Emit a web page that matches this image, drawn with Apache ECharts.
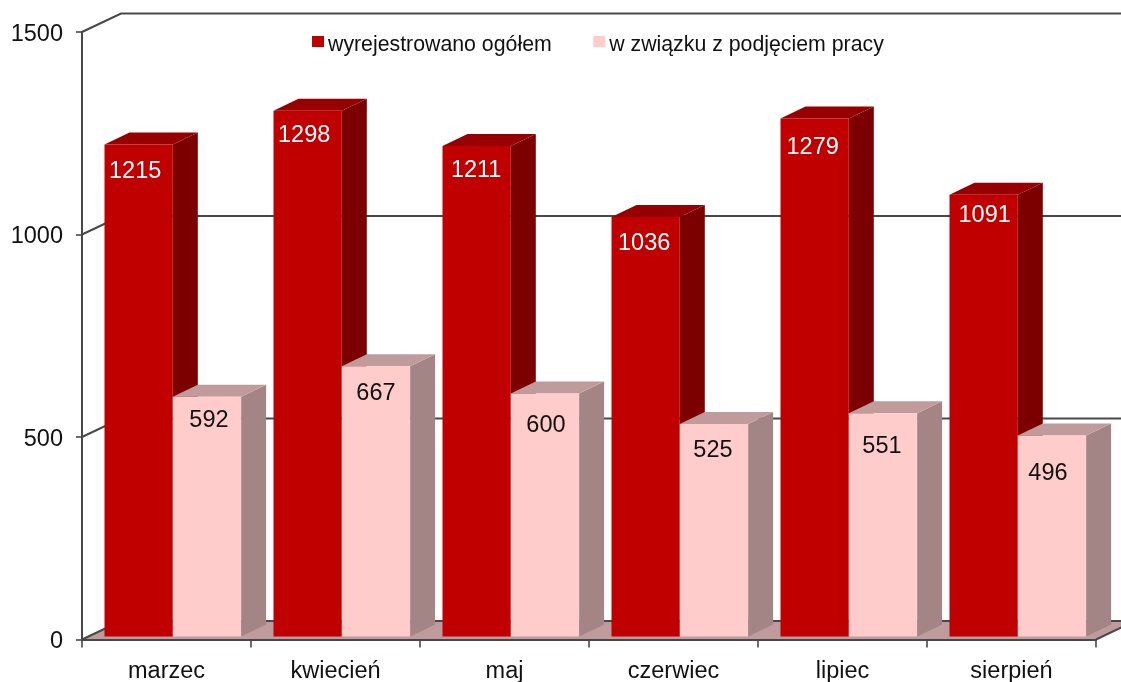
<!DOCTYPE html>
<html><head><meta charset="utf-8">
<style>html,body{margin:0;padding:0;background:#fff}#c{width:1121px;height:682px}</style>
<script src="https://cdn.jsdelivr.net/npm/echarts@6/dist/echarts.min.js"></script>
</head><body><div id="c"></div>
<script>
const categories = ['marzec','kwiecień','maj','czerwiec','lipiec','sierpień'];
const wyrejestrowano = [1215,1298,1211,1036,1279,1091];
const podjeciePracy = [592,667,600,525,551,496];
const yTicks = [0,500,1000,1500];
const seriesNames = ['wyrejestrowano ogółem','w związku z podjęciem pracy'];

// hand-placed data label nudges [dx, dy] from the top-centre of each bar
const redLabelNudge = [[-3.5,27.2],[-3.5,25],[-0.5,24],[-1.5,27],[-2,29],[1,20.5]];
const pinkLabelNudge = [[2,24],[0,27.3],[1,32.3],[-1,27],[-1,33.3],[-4,37.8]];

const FONT = '"Liberation Sans", Arial, sans-serif';
const WALL = [39,-18.5], BAR_SHIFT = [7,-3], BAR_DEPTH = [25,-12];
const BAR_FRAC = 68.3/169, BAR_START = 22.5/169;
const AXIS_COLOR = '#484848';

function wallItem(params, api){
  const cs = params.coordSys, y = api.coord([0, api.value(0)])[1];
  const x0 = cs.x, x1 = cs.x + cs.width;
  const children = [];
  if (api.value(0) === 0) {
    children.push({type:'polygon',shape:{points:[[x0,y],[x0+WALL[0],y+WALL[1]],[x1+WALL[0],y+WALL[1]],[x1,y]]},
      style:{fill:'#c09b9b'}});
  }
  children.push({type:'polyline',shape:{points:[[x0,y],[x0+WALL[0],y+WALL[1]],[x1+WALL[0],y+WALL[1]]]},
    style:{fill:null,stroke:AXIS_COLOR,lineWidth:2}});
  if (api.value(0) === 0) {
    children.push({type:'line',shape:{x1:x1,y1:y,x2:x1+WALL[0],y2:y+WALL[1]},style:{stroke:AXIS_COLOR,lineWidth:2}});
  }
  return {type:'group',children};
}

function barRenderer(seriesIdx, front, top, side, textColor, nudge){
  return function(params, api){
    const i = api.value(0), v = api.value(1);
    const band = api.size([1,0])[0];
    const base = api.coord([i,0]), head = api.coord([i,v]);
    const w = band*BAR_FRAC;
    const xl = base[0]-band/2 + band*BAR_START + seriesIdx*w;
    const xr = xl+w;
    const yb = base[1]+BAR_SHIFT[1], yt = head[1]+BAR_SHIFT[1];
    const dx = BAR_DEPTH[0], dy = BAR_DEPTH[1];
    return {type:'group',children:[
      {type:'polygon',shape:{points:[[xr,yb],[xr+dx,yb+dy],[xr+dx,yt+dy],[xr,yt]]},style:{fill:side}},
      {type:'polygon',shape:{points:[[xl,yt],[xl+dx,yt+dy],[xr+dx,yt+dy],[xr,yt]]},style:{fill:top}},
      {type:'rect',shape:{x:xl,y:yt,width:w,height:yb-yt},style:{fill:front}},
      {type:'text',x:(xl+xr)/2+nudge[i][0],y:yt+nudge[i][1],
        style:{text:String(v),fill:textColor,font:'23.5px '+FONT,align:'center',verticalAlign:'middle'}}
    ]};
  };
}

const chart = echarts.init(document.getElementById('c'),null,{renderer:'canvas'});
chart.setOption({
  animation:false,
  backgroundColor:'#ffffff',
  grid:{left:82,top:32,width:1014,height:607.5,containLabel:false,outerBoundsMode:'none'},
  legend:{
    data:seriesNames.map((n,k)=>({name:n,icon:'rect',itemStyle:{color:k?'#ffcccc':'#c00000'}})),
    left:307,top:29.5,itemWidth:12,itemHeight:11,itemGap:41.5,
    selectedMode:false,
    formatter:n=>'{t|'+n+'}',
    textStyle:{fontFamily:FONT,fontSize:21.3,color:'#111',
      rich:{t:{fontFamily:FONT,fontSize:21.3,color:'#111',padding:[7,0,0,-1]}}}
  },
  xAxis:{type:'category',data:categories,z:10,
    axisLine:{lineStyle:{color:AXIS_COLOR,width:2}},
    axisTick:{show:true,length:8,lineStyle:{color:AXIS_COLOR,width:1.6}},
    axisLabel:{fontFamily:FONT,fontSize:23.5,color:'#111',margin:20,interval:0},
    splitLine:{show:false}},
  yAxis:{type:'value',min:0,max:1500,interval:500,z:10,
    axisLine:{show:true,lineStyle:{color:AXIS_COLOR,width:2}},
    axisTick:{show:true,length:6,lineStyle:{color:AXIS_COLOR,width:1.6}},
    axisLabel:{fontFamily:FONT,fontSize:23.5,color:'#111',margin:19,
      formatter:v=>'{t|'+v+'}',
      rich:{t:{fontFamily:FONT,fontSize:23.5,color:'#111',padding:[5,0,0,0]}}},
    splitLine:{show:false}},
  series:[
    {type:'custom',name:'wall',silent:true,z:1,clip:false,coordinateSystem:'cartesian2d',
      data:yTicks.map(v=>[v]),encode:{y:0},renderItem:wallItem},
    {type:'custom',name:seriesNames[0],z:2,clip:false,coordinateSystem:'cartesian2d',
      data:wyrejestrowano.map((v,i)=>[i,v]),encode:{x:0,y:1},
      itemStyle:{color:'#c00000'},
      renderItem:barRenderer(0,'#c00000','#960000','#7d0000','#ffffff',redLabelNudge)},
    {type:'custom',name:seriesNames[1],z:3,clip:false,coordinateSystem:'cartesian2d',
      data:podjeciePracy.map((v,i)=>[i,v]),encode:{x:0,y:1},
      itemStyle:{color:'#ffcccc'},
      renderItem:barRenderer(1,'#ffcccc','#c09b9b','#a38585','#111111',pinkLabelNudge)}
  ]
});
</script></body></html>
